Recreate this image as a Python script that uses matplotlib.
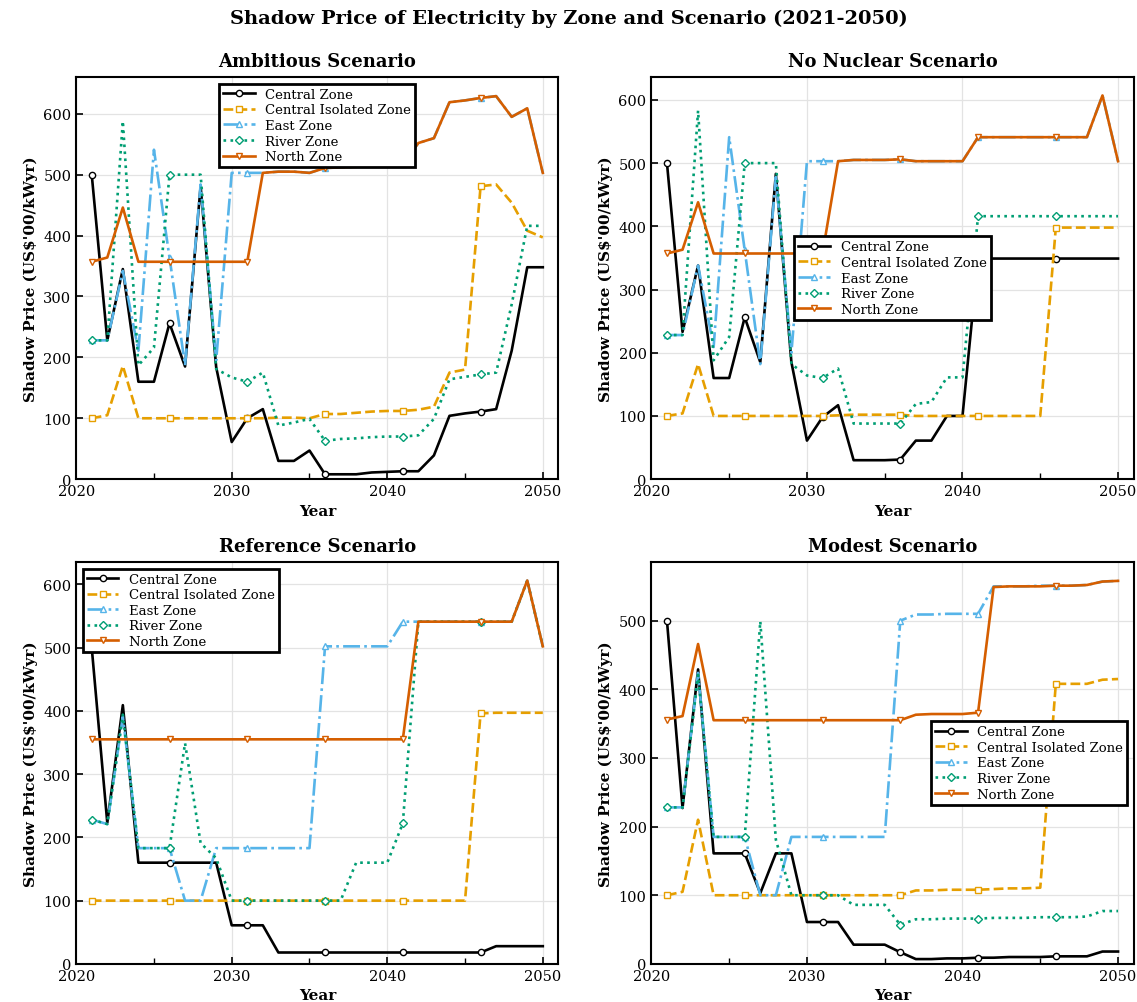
import matplotlib
matplotlib.use("Agg")
import matplotlib.pyplot as plt
import numpy as np
from matplotlib.ticker import MultipleLocator

plt.rcParams['font.family'] = ['DejaVu Serif']

years = np.arange(2021, 2051)
zones = ['Central Zone', 'Central Isolated Zone', 'East Zone', 'River Zone', 'North Zone']
scenarios = ['Ambitious Scenario', 'No Nuclear Scenario', 'Reference Scenario', 'Modest Scenario']

# Ambitious
central_amb = [500, 228, 345, 160, 160, 256, 185, 481, 184, 61,
               100, 115, 30, 30, 47, 8, 8, 8, 11, 12,
               13, 13, 39, 104, 108, 111, 115, 211, 348, 348]
iso_amb = [100, 105, 186, 100, 100, 100, 100, 100, 100, 100,
           100, 100, 101, 101, 100, 107, 107, 109, 111, 112,
           112, 114, 119, 175, 180, 481, 484, 454, 408, 397]
east_amb = [228, 228, 342, 211, 541, 364, 187, 484, 195, 503,
            503, 503, 505, 505, 503, 511, 512, 513, 516, 517,
            517, 552, 560, 619, 622, 626, 629, 595, 609, 503]
river_amb = [228, 228, 588, 187, 216, 500, 500, 500, 181, 167,
             160, 175, 88, 93, 99, 63, 66, 67, 69, 70,
             70, 72, 99, 164, 168, 172, 175, 287, 416, 416]
north_amb = [357, 364, 446, 357, 357, 357, 357, 357, 357, 357,
             357, 503, 505, 505, 503, 511, 512, 513, 516, 517,
             517, 552, 560, 619, 622, 626, 629, 595, 609, 503]

# No Nuclear
central_nn = [500, 233, 338, 160, 160, 256, 185, 483, 185, 61,
              98, 117, 30, 30, 30, 31, 61, 61, 100, 100,
              349, 349, 349, 349, 349, 349, 349, 349, 349, 349]
iso_nn = [100, 104, 182, 100, 100, 100, 100, 100, 100, 100,
          100, 101, 102, 102, 102, 102, 100, 100, 100, 100,
          100, 100, 100, 100, 100, 398, 398, 398, 398, 398]
east_nn = [228, 228, 338, 209, 541, 362, 182, 478, 200, 503,
           503, 503, 505, 505, 505, 506, 503, 503, 503, 503,
           541, 541, 541, 541, 541, 541, 541, 541, 607, 503]
river_nn = [228, 228, 583, 188, 225, 500, 500, 500, 182, 164,
            160, 175, 88, 88, 88, 88, 119, 122, 161, 161,
            416, 416, 416, 416, 416, 416, 416, 416, 416, 416]
north_nn = [357, 363, 438, 357, 357, 357, 357, 357, 357, 357,
            357, 503, 505, 505, 505, 506, 503, 503, 503, 503,
            541, 541, 541, 541, 541, 541, 541, 541, 607, 503]

# Reference
central_ref = [500, 223, 409, 160, 160, 160, 160, 160, 160, 61,
               61, 61, 18, 18, 18, 18, 18, 18, 18, 18,
               18, 18, 18, 18, 18, 18, 28, 28, 28, 28]
iso_ref = [100, 100, 100, 100, 100, 100, 100, 100, 100, 100,
           100, 100, 100, 100, 100, 100, 100, 100, 100, 100,
           100, 100, 100, 100, 100, 396, 397, 397, 397, 397]
east_ref = [228, 221, 391, 183, 183, 183, 100, 100, 183, 183,
            183, 183, 183, 183, 183, 502, 502, 502, 502, 502,
            541, 541, 541, 541, 541, 541, 541, 541, 606, 502]
river_ref = [228, 221, 394, 183, 183, 183, 349, 191, 167, 100,
             100, 100, 100, 100, 100, 100, 100, 160, 160, 160,
             222, 541, 541, 541, 541, 541, 541, 541, 606, 502]
north_ref = [355, 355, 355, 355, 355, 355, 355, 355, 355, 355,
             355, 355, 355, 355, 355, 355, 355, 355, 355, 355,
             355, 541, 541, 541, 541, 541, 541, 541, 606, 502]

# Modest
central_mod = [500, 227, 429, 161, 161, 161, 103, 161, 161, 61,
               61, 61, 28, 28, 28, 17, 7, 7, 8, 8,
               9, 9, 10, 10, 10, 11, 11, 11, 18, 18]
iso_mod = [100, 105, 210, 100, 100, 100, 100, 100, 100, 100,
           100, 100, 100, 100, 100, 100, 107, 107, 108, 108,
           108, 109, 110, 110, 111, 408, 408, 408, 414, 415]
east_mod = [228, 228, 424, 185, 185, 185, 100, 100, 185, 185,
            185, 185, 185, 185, 185, 500, 509, 509, 510, 510,
            510, 550, 550, 550, 551, 551, 551, 552, 557, 558]
river_mod = [228, 228, 421, 185, 185, 185, 499, 181, 100, 100,
             100, 100, 86, 86, 86, 57, 65, 65, 66, 66,
             66, 67, 67, 67, 68, 68, 68, 69, 77, 77]
north_mod = [356, 361, 466, 355, 355, 355, 355, 355, 355, 355,
             355, 355, 355, 355, 355, 355, 363, 364, 364, 364,
             366, 549, 550, 550, 550, 551, 551, 552, 557, 558]

data = [
    [central_amb, iso_amb, east_amb, river_amb, north_amb],
    [central_nn, iso_nn, east_nn, river_nn, north_nn],
    [central_ref, iso_ref, east_ref, river_ref, north_ref],
    [central_mod, iso_mod, east_mod, river_mod, north_mod],
]

colors = ['#000000', '#E69F00', '#56B4E9', '#009E73', '#D55E00']
markers = ['o', 's', '^', 'D', 'v']
styles = ['-', '--', '-.', ':', '-']
legend_locs = ['upper center', 'center', 'upper left', 'center right']

fig, axs = plt.subplots(2, 2, figsize=(11.37, 10.03), dpi=100)
fig.subplots_adjust(left=0.067, right=0.997, top=0.922, bottom=0.038,
                    wspace=0.193, hspace=0.206)

for k, ax in enumerate(axs.flat):
    for j in range(5):
        ax.plot(years, data[k][j], linestyle=styles[j], color=colors[j],
                linewidth=1.9, marker=markers[j], markevery=5, markersize=4.5,
                markerfacecolor='white', markeredgewidth=1.0, label=zones[j])
    ax.set_xlim(2020, 2051)
    ax.set_ylim(bottom=0)
    ax.xaxis.set_major_locator(MultipleLocator(10))
    ax.xaxis.set_minor_locator(MultipleLocator(5))
    ax.tick_params(direction='in', labelsize=10.5, length=5, width=1.2)
    ax.tick_params(which='minor', direction='in', length=4, width=1)
    ax.grid(True, color='#e3e3e3', linewidth=0.9)
    for s in ax.spines.values():
        s.set_linewidth(1.5)
    ax.set_title(scenarios[k], fontsize=13, fontweight='bold', pad=8)
    ax.set_xlabel('Year', fontsize=11, fontweight='bold')
    ax.set_ylabel("Shadow Price (US\\$'00/kWyr)", fontsize=11, fontweight='bold')
    leg = ax.legend(loc=legend_locs[k], fontsize=9.5, fancybox=False,
                    edgecolor='black', framealpha=1, borderpad=0.3,
                    labelspacing=0.2, handlelength=2.4)
    leg.get_frame().set_linewidth(2)

fig.suptitle('Shadow Price of Electricity by Zone and Scenario (2021-2050)',
             fontsize=14, fontweight='bold', y=0.99)

plt.savefig('out.png', dpi=100)
